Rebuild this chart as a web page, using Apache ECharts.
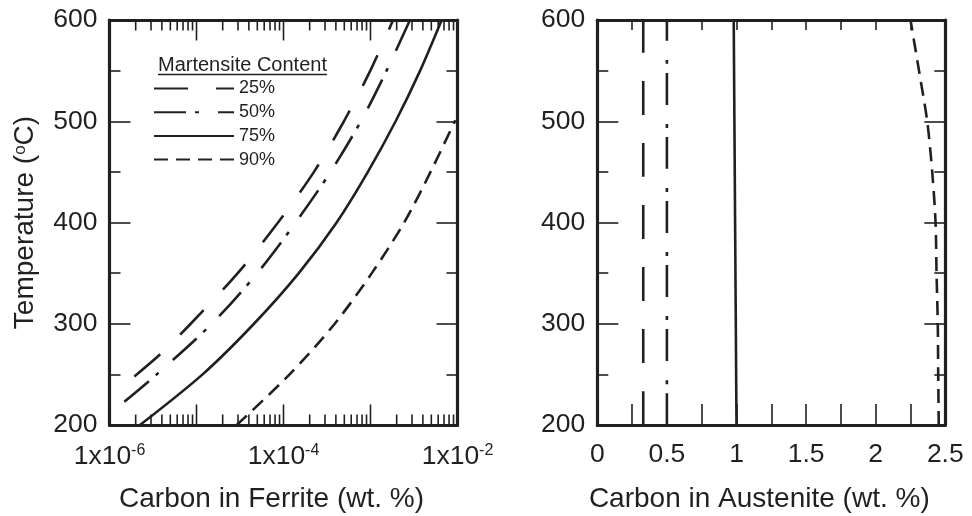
<!DOCTYPE html>
<html>
<head>
<meta charset="utf-8">
<script src="https://cdn.jsdelivr.net/npm/echarts@6/dist/echarts.min.js"></script>
<style>
  html, body { margin: 0; padding: 0; background: #ffffff; }
  #chart { width: 972px; height: 516px; }
</style>
</head>
<body>
<div id="chart"></div>
<script>
// Series names (martensite content)
const seriesNames = ['25%', '50%', '75%', '90%'];

// Carbon in ferrite (wt. %) vs temperature (°C)
const ferrite25 = [[1.93e-6, 248], [3.84e-6, 270], [8.57e-6, 300], [2.98e-5, 350], [8.65e-5, 400], [2.24e-4, 450], [4.95e-4, 500], [9.95e-4, 550], [1.82e-3, 600]];
const ferrite50 = [[1.48e-6, 223], [3.49e-6, 250], [1.5e-5, 300], [5.0e-5, 350], [1.38e-4, 400], [3.47e-4, 450], [7.76e-4, 500], [1.53e-3, 550], [2.84e-3, 600]];
const ferrite75 = [[2.24e-6, 200], [1.175e-5, 250], [4.58e-5, 300], [1.5e-4, 350], [4.08e-4, 400], [9.33e-4, 450], [1.945e-3, 500], [3.72e-3, 550], [6.58e-3, 600]];
const ferrite90 = [[2.9e-5, 200], [1.175e-4, 250], [3.88e-4, 300], [1.035e-3, 350], [2.44e-3, 400], [4.9e-3, 450], [9.44e-3, 501]];

// Carbon in austenite (wt. %) vs temperature (°C)
const austenite25 = [[0.33, 200], [0.33, 600]];
const austenite50 = [[0.5, 200], [0.5, 600]];
const austenite75 = [[1.0, 200], [0.99, 400], [0.98, 600]];
const austenite90 = [[2.453, 200], [2.449, 250], [2.446, 300], [2.437, 350], [2.43, 400], [2.406, 450], [2.37, 500], [2.311, 550], [2.25, 600]];

// Log-axis tick marks: decades and the 2..9 subdivisions
const logDecades = [-6, -5, -4, -3];
const logMantissas = [1, 2, 3, 4, 5, 6, 7, 8, 9];
const logLastTick = 1e-2;
const labelledExponents = [-6, -4, -2];

const INK = '#231f20';
const FONT = '"Liberation Sans", Arial, Helvetica, sans-serif';

const dashPatterns = {
  '25%': [34, 28],
  '50%': [32, 9, 4, 19],
  '75%': 'solid',
  '90%': [14, 8]
};

const logTicks = [];
logDecades.forEach(function (e) {
  logMantissas.forEach(function (m) {
    logTicks.push([m * Math.pow(10, e), m === 1 ? 1 : 0]);
  });
});
logTicks.push([logLastTick, 1]);

const chart = echarts.init(document.getElementById('chart'), null, { renderer: 'canvas' });

function lineSeries(name, data, xi, yi) {
  return {
    name: name,
    type: 'line',
    xAxisIndex: xi,
    yAxisIndex: yi,
    data: data,
    smooth: 0.3,
    symbol: 'none',
    showSymbol: false,
    lineStyle: { color: INK, width: 2.6, type: dashPatterns[name], cap: 'butt' },
    itemStyle: { color: INK },
    emphasis: { disabled: true },
    z: 3
  };
}

const frameLine = { show: true, onZero: false, lineStyle: { color: INK, width: 3.2 } };
const tickStyle = { color: INK, width: 1.6 };

function yAxisDef(gridIndex, pos, withLabels) {
  return {
    gridIndex: gridIndex,
    type: 'value',
    position: pos,
    min: 200, max: 600, interval: 100,
    axisLine: frameLine,
    axisTick: { show: true, inside: true, length: 21, lineStyle: tickStyle },
    minorTick: { show: true, splitNumber: 2, length: 11, lineStyle: tickStyle },
    splitLine: { show: false },
    minorSplitLine: { show: false },
    axisLabel: { show: withLabels, margin: 12, fontSize: 26.5, color: INK, fontFamily: FONT }
  };
}

// Measure the legend heading so its underline fits the text
const headingText = 'Martensite Content';
const headingFont = '20px ' + FONT;
const measureCtx = document.createElement('canvas').getContext('2d');
measureCtx.font = headingFont;
const headingWidth = measureCtx.measureText(headingText).width;

const option = {
  animation: false,
  backgroundColor: '#ffffff',
  textStyle: { fontFamily: FONT, color: INK },
  grid: [
    { left: 109.5, top: 20, width: 348, height: 405, containLabel: false, outerBoundsMode: 'none' },
    { left: 597.3, top: 20, width: 348, height: 405, containLabel: false, outerBoundsMode: 'none' }
  ],
  legend: {
    data: seriesNames,
    orient: 'vertical',
    left: 153,
    top: 79.5,
    padding: 0,
    itemWidth: 80,
    itemHeight: 14,
    itemGap: 5.7,
    selectedMode: false,
    itemStyle: { opacity: 0 },
    textStyle: { fontSize: 18, color: INK, fontFamily: FONT }
  },
  graphic: [
    {
      type: 'text',
      left: 158,
      top: 55,
      style: { text: headingText, font: headingFont, fill: INK }
    },
    {
      type: 'line',
      shape: { x1: 158, y1: 74.5, x2: 158 + headingWidth, y2: 74.5 },
      style: { stroke: INK, lineWidth: 1.4 }
    }
  ],
  xAxis: [
    {
      gridIndex: 0,
      type: 'log',
      logBase: 10,
      min: 1e-6, max: 1e-2,
      position: 'bottom',
      axisLine: frameLine,
      axisTick: { show: false },
      splitLine: { show: false },
      axisLabel: {
        margin: 18,
        color: INK,
        fontFamily: FONT,
        formatter: function (v) {
          const e = Math.round(Math.log10(v));
          if (labelledExponents.indexOf(e) < 0) return '';
          return '{m|1x10}{s|' + e + '}';
        },
        rich: {
          m: { fontSize: 26.5, color: INK, fontFamily: FONT },
          s: { fontSize: 16, color: INK, fontFamily: FONT, verticalAlign: 'top' }
        }
      },
      name: 'Carbon in Ferrite (wt. %)',
      nameLocation: 'middle',
      nameGap: 60,
      nameTextStyle: { fontSize: 28, color: INK, fontFamily: FONT, padding: [0, 24, 0, 0] }
    },
    {
      gridIndex: 0,
      type: 'log',
      logBase: 10,
      min: 1e-6, max: 1e-2,
      position: 'top',
      axisLine: frameLine,
      axisTick: { show: false },
      splitLine: { show: false },
      axisLabel: { show: false }
    },
    {
      gridIndex: 1,
      type: 'value',
      min: 0, max: 2.5, interval: 0.5,
      position: 'bottom',
      axisLine: frameLine,
      axisTick: { show: true, inside: true, length: 21, lineStyle: tickStyle },
      minorTick: { show: true, splitNumber: 2, length: 21, lineStyle: tickStyle },
      splitLine: { show: false },
      minorSplitLine: { show: false },
      axisLabel: { margin: 16, fontSize: 26.5, color: INK, fontFamily: FONT },
      name: 'Carbon in Austenite (wt. %)',
      nameLocation: 'middle',
      nameGap: 60,
      nameTextStyle: { fontSize: 28, color: INK, fontFamily: FONT, padding: [0, 24, 0, 0] }
    },
    {
      gridIndex: 1,
      type: 'value',
      min: 0, max: 2.5, interval: 0.5,
      position: 'top',
      axisLine: frameLine,
      axisTick: { show: true, inside: true, length: 10, lineStyle: tickStyle },
      minorTick: { show: true, splitNumber: 2, length: 10, lineStyle: tickStyle },
      splitLine: { show: false },
      minorSplitLine: { show: false },
      axisLabel: { show: false }
    }
  ],
  yAxis: [
    Object.assign(yAxisDef(0, 'left', true), {
      name: '{t|Temperature (}{s|o}{t|C)}',
      nameLocation: 'middle',
      nameGap: 70,
      nameRotate: 90,
      nameTextStyle: {
        rich: {
          t: { fontSize: 28, color: INK, fontFamily: FONT },
          s: { fontSize: 17, color: INK, fontFamily: FONT, verticalAlign: 'top' }
        }
      }
    }),
    yAxisDef(0, 'right', false),
    yAxisDef(1, 'left', true),
    yAxisDef(1, 'right', false)
  ],
  series: [
    lineSeries('25%', ferrite25, 0, 0),
    lineSeries('50%', ferrite50, 0, 0),
    lineSeries('75%', ferrite75, 0, 0),
    lineSeries('90%', ferrite90, 0, 0),
    lineSeries('25%', austenite25, 2, 2),
    lineSeries('50%', austenite50, 2, 2),
    lineSeries('75%', austenite75, 2, 2),
    lineSeries('90%', austenite90, 2, 2),
    {
      // Decade and sub-decade ticks for the log axis, on bottom and top edges
      type: 'custom',
      xAxisIndex: 0,
      yAxisIndex: 0,
      silent: true,
      clip: false,
      z: 4,
      data: logTicks,
      renderItem: function (params, api) {
        const v = api.value(0);
        const major = api.value(1) === 1;
        const len = major ? 20.5 : 10.5;
        const b = api.coord([v, 200]);
        const t = api.coord([v, 600]);
        return {
          type: 'group',
          children: [
            { type: 'line', shape: { x1: b[0], y1: b[1], x2: b[0], y2: b[1] - len }, style: { stroke: INK, lineWidth: 1.6 } },
            { type: 'line', shape: { x1: t[0], y1: t[1], x2: t[0], y2: t[1] + len }, style: { stroke: INK, lineWidth: 1.6 } }
          ]
        };
      }
    }
  ]
};

chart.setOption(option);
</script>
</body>
</html>
